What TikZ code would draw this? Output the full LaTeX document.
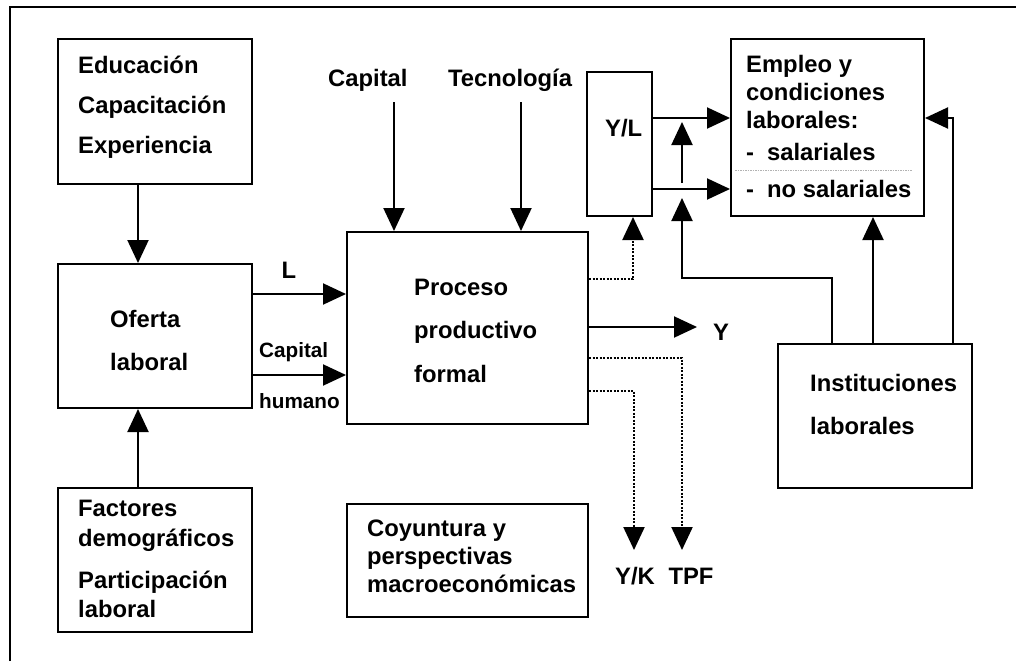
\documentclass[tikz,border=0pt]{standalone}
\usepackage{fontspec}
\setmainfont{Liberation Sans}
\usetikzlibrary{arrows.meta,calc}
\begin{document}
\begin{tikzpicture}[x=1pt,y=-1pt,
  box/.style={draw, line width=2pt, inner sep=0pt, anchor=north west, rectangle},
  txt/.style={anchor=base west, inner sep=0pt, font=\fontsize{23.8}{28}\selectfont\bfseries},
  stxt/.style={anchor=base west, inner sep=0pt, font=\fontsize{20.7}{24}\selectfont\bfseries},
  arr/.style={line width=2pt, -{Triangle[length=23pt,width=21pt]}},
  dotarr/.style={line width=2.2pt, dash pattern=on 2pt off 1.5pt, -{Triangle[length=23pt,width=21pt]}},
  ln/.style={line width=2pt},
]
\useasboundingbox (0,0) rectangle (1016,661);
% outer frame (top and left visible)
\draw[ln] (10,661) -- (10,7) -- (1016,7);

% boxes
\node[box, minimum width=194pt, minimum height=145pt] (edu)  at (57,38)  {};
\node[box, minimum width=194pt, minimum height=144pt] (ofe)  at (57,263) {};
\node[box, minimum width=194pt, minimum height=144pt] (fac)  at (57,487) {};
\node[box, minimum width=241pt, minimum height=192pt] (proc) at (346,231) {};
\node[box, minimum width=241pt, minimum height=113pt] (coy)  at (346,503) {};
\node[box, minimum width=65pt,  minimum height=144pt] (yl)   at (586,71)  {};
\node[box, minimum width=193pt, minimum height=177pt] (emp)  at (730,38)  {};
\node[box, minimum width=194pt, minimum height=144pt] (inst) at (777,343) {};

% texts
\node[txt] (t1) at (78,73)  {Educación};
\node[txt] (t2) at (78,113) {Capacitación};
\node[txt] (t3) at (78,153) {Experiencia};
\node[txt] (t4) at (110,327) {Oferta};
\node[txt] (t5) at (110,370) {laboral};
\node[txt] (t6) at (78,516) {Factores};
\node[txt] (t7) at (78,546) {demográficos};
\node[txt] (t8) at (78,588) {Participación};
\node[txt] (t9) at (78,617) {laboral};
\node[txt] (t10) at (414,295) {Proceso};
\node[txt] (t11) at (414,338) {productivo};
\node[txt] (t12) at (414,382) {formal};
\node[txt] (t13) at (367,536) {Coyuntura y};
\node[txt] (t14) at (367,564) {perspectivas};
\node[txt] (t15) at (367,592) {macroeconómicas};
\node[txt] (t16) at (605,136) {Y/L};
\node[txt] (t17) at (746,72)  {Empleo y};
\node[txt] (t18) at (746,100) {condiciones};
\node[txt] (t19) at (746,128) {laborales:};
\node[txt] (t20) at (746,160) {-\hspace*{13pt}salariales};
\node[txt] (t21) at (746,197) {-\hspace*{13pt}no salariales};
\node[txt] (t22) at (810,391) {Instituciones};
\node[txt] (t23) at (810,434) {laborales};
\node[txt] (capT) at (328,86) {Capital};
\node[txt] (tecT) at (448,86) {Tecnología};
\node[txt, anchor=base] (lL) at (289,278) {L};
\node[stxt] (lCap) at (259,357) {Capital};
\node[stxt] (lHum) at (259,408) {humano};
\node[txt] (lY) at (713,340) {Y};
\node[txt, anchor=base] (lYK) at (635,584) {Y/K};
\node[txt, anchor=base] (lTPF) at (691,584) {TPF};

% separator in Empleo box
\draw[gray!60, line width=0.7pt, dash pattern=on 1.5pt off 1pt] (735,170) -- (912,170);

% helper coordinates
\coordinate (x138) at (138,0);
\coordinate (yL) at (0,294);
\coordinate (yH) at (0,375);
\coordinate (capS) at (394,102);
\coordinate (tecS) at (521,102);
\coordinate (d1) at (0,279);
\coordinate (x633) at (633,0);
\coordinate (yY) at (0,327);
\coordinate (yEnd) at (697,327);
\coordinate (d2) at (0,358);
\coordinate (tpfEnd) at (682,550);
\coordinate (d3) at (0,391);
\coordinate (ykEnd) at (634,550);
\coordinate (y118) at (0,118);
\coordinate (y189) at (0,189);
\coordinate (upS) at (682,183);
\coordinate (upE) at (682,122);
\coordinate (k1) at (832,278);
\coordinate (k2) at (682,278);
\coordinate (k3) at (682,198);
\coordinate (x873) at (873,0);
\coordinate (x953) at (953,0);

% connectors
\draw[arr] (edu.south -| x138) -- (ofe.north -| x138);
\draw[arr] (fac.north -| x138) -- (ofe.south -| x138);
\draw[arr] (ofe.east |- yL) -- (proc.west |- yL);
\draw[arr] (ofe.east |- yH) -- (proc.west |- yH);
\draw[arr] (capS) -- (capS |- proc.north);
\draw[arr] (tecS) -- (tecS |- proc.north);
\draw[dotarr] (proc.east |- d1) -| (x633 |- yl.south);
\draw[arr] (proc.east |- yY) -- (yEnd);
\draw[dotarr] (proc.east |- d2) -| (tpfEnd);
\draw[dotarr] (proc.east |- d3) -| (ykEnd);
\draw[arr] (yl.east |- y118) -- (emp.west |- y118);
\draw[arr] (yl.east |- y189) -- (emp.west |- y189);
\draw[arr] (upS) -- (upE);
\draw[arr] (inst.north -| k1) -- (k1) -- (k2) -- (k3);
\draw[arr] (inst.north -| x873) -- (emp.south -| x873);
\draw[arr] (inst.north -| x953) |- (emp.east |- y118);
\end{tikzpicture}
\end{document}
